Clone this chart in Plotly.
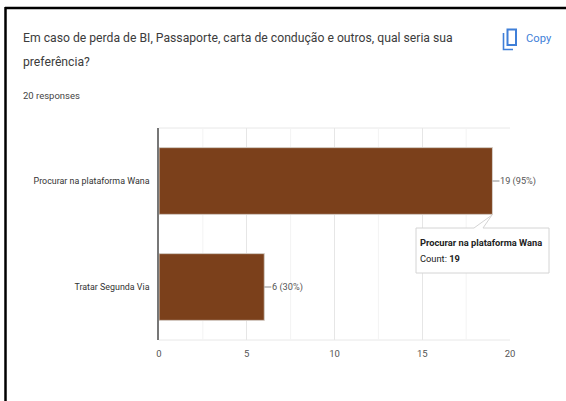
import plotly.graph_objects as go

categories = ["Procurar na plataforma Wana", "Tratar Segunda Via"]
counts = [19, 6]
data_labels = ["19 (95%)", "6 (30%)"]
tick_values = [0, 5, 10, 15, 20]
minor_ticks = [2.5, 7.5, 12.5, 17.5]
title_text = "Em caso de perda de BI, Passaporte, carta de condução e outros, qual seria sua<br>preferência?"
subtitle_text = "20 responses"
FONT = "Roboto, Liberation Sans, Arial, sans-serif"
W, H = 566, 401
L, R, T, B = 159, 56, 128, 61

def px(x):
    return (x - L) / (W - L - R)
def py(y):
    return 1 - (y - T) / (H - T - B)

fig = go.Figure(go.Bar(
    y=categories, x=counts, orientation="h",
    marker=dict(color="#7b401b", line=dict(color="#d6cfc8", width=1)),
    hoverinfo="skip", width=0.63,
))

shapes = [
    dict(type="line", xref="paper", yref="paper", x0=px(5.5), x1=px(5.5), y0=py(401), y1=py(7), line=dict(color="#000", width=2.5)),
    dict(type="line", xref="paper", yref="paper", x0=px(5), x1=px(566), y0=py(8), y1=py(8), line=dict(color="#000", width=2.5)),
    dict(type="line", xref="paper", yref="paper", x0=px(159), x1=px(510), y0=py(128), y1=py(128), layer="below", line=dict(color="#e8e8e8", width=1)),
    dict(type="line", xref="paper", yref="paper", x0=px(159), x1=px(510), y0=py(340), y1=py(340), layer="below", line=dict(color="#e8e8e8", width=1)),
]
for m in minor_ticks:
    shapes.append(dict(type="line", xref="x", yref="paper", x0=m, x1=m, y0=0, y1=1, layer="below", line=dict(color="#f3f3f3", width=1)))

# data label leader lines
for c, cat in zip(counts, categories):
    shapes.append(dict(type="line", xref="x", yref="y", x0=c, x1=c + 0.4, y0=cat, y1=cat, line=dict(color="#8a8a8a", width=1)))

# copy icon
shapes.append(dict(type="rect", xref="paper", yref="paper", x0=px(507.5), x1=px(516), y0=py(45), y1=py(29.5), line=dict(color="#3f7fd8", width=2)))
shapes.append(dict(type="path", xref="paper", yref="paper",
    path=f"M {px(503.5)} {py(33)} L {px(503.5)} {py(49.5)} L {px(513)} {py(49.5)}",
    line=dict(color="#3f7fd8", width=1.6)))

# tooltip callout
shapes.append(dict(type="path", xref="paper", yref="paper",
    path=f"M {px(416)} {py(228)} L {px(416)} {py(273)} L {px(549)} {py(273)} L {px(549)} {py(228)} L {px(483)} {py(228)} L {px(492)} {py(215)} L {px(474)} {py(228)} Z",
    fillcolor="#ffffff", line=dict(color="#d4d4d4", width=1)))

annotations = [
    dict(xref="paper", yref="paper", x=px(23), y=py(38), xanchor="left", yanchor="middle", showarrow=False,
         text=title_text.split("<br>")[0], font=dict(family=FONT, size=12.2, color="#3c3c3c"), xshift=-2),
    dict(xref="paper", yref="paper", x=px(23), y=py(62), xanchor="left", yanchor="middle", showarrow=False,
         text=title_text.split("<br>")[1], font=dict(family=FONT, size=12.2, color="#3c3c3c"), xshift=-2),
    dict(xref="paper", yref="paper", x=px(23), y=py(95), xanchor="left", yanchor="middle", showarrow=False,
         text=subtitle_text, font=dict(family=FONT, size=9.5, color="#444"), xshift=-2),
    dict(xref="paper", yref="paper", x=px(526), y=py(38), xanchor="left", yanchor="middle", showarrow=False,
         text="Copy", font=dict(family=FONT, size=11.2, color="#3f7fd8"), xshift=-2),
    dict(xref="paper", yref="paper", x=px(420), y=py(242), xanchor="left", yanchor="middle", showarrow=False,
         text="<b>Procurar na plataforma Wana</b>", font=dict(family=FONT, size=9.3, color="#222"), xshift=-2),
    dict(xref="paper", yref="paper", x=px(420), y=py(258), xanchor="left", yanchor="middle", showarrow=False,
         text="Count: <b>19</b>", font=dict(family=FONT, size=9.3, color="#222"), xshift=-2),
]
for c, cat, lab in zip(counts, categories, data_labels):
    annotations.append(dict(xref="x", yref="y", x=c + 0.42, y=cat, xanchor="left", yanchor="middle", showarrow=False,
                            text=lab, font=dict(family=FONT, size=9.2, color="#555"), xshift=-2))

fig.update_layout(
    width=W, height=H, margin=dict(l=L, r=R, t=T, b=B),
    paper_bgcolor="#ffffff", plot_bgcolor="#ffffff", showlegend=False,
    font=dict(family=FONT, size=10, color="#444"),
    shapes=shapes, annotations=annotations,
    xaxis=dict(range=[0, 20], tickvals=tick_values, ticks="", showgrid=True, gridcolor="#e6e6e6", gridwidth=1,
               zeroline=False, showline=False, tickfont=dict(size=9.5, color="#555"), ticklabelstandoff=6),
    yaxis=dict(categoryorder="array", categoryarray=categories, autorange=False, range=[1.5, -0.5],
               ticks="", showline=True, linecolor="#777", linewidth=1.5, showgrid=False,
               tickfont=dict(size=8.9, color="#333"), ticklabelstandoff=6),
)
fig.write_html("out.html", config=dict(displayModeBar=False),
               post_script="document.body.style.margin='0';document.body.style.overflow='hidden';")
